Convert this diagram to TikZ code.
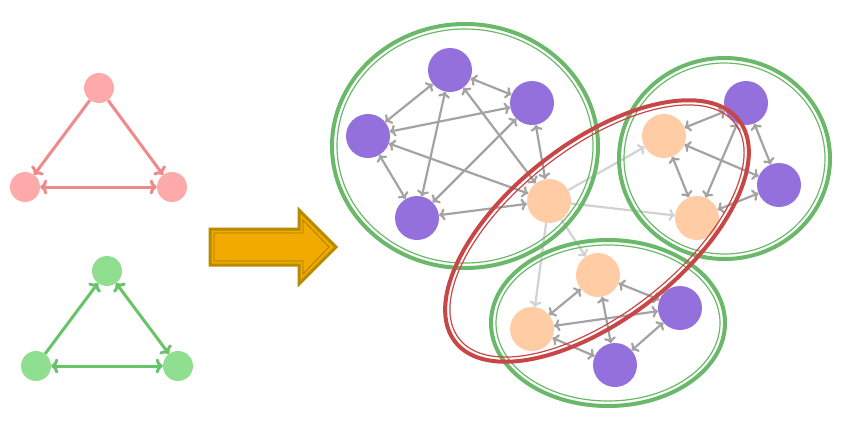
\documentclass[tikz,border=0pt]{standalone}
\usepackage{tikz}
\usepackage{xcolor}
\usetikzlibrary{arrows.meta}

\definecolor{purplenode}{HTML}{9370DB}
\definecolor{peachnode}{HTML}{FFCCA5}
\definecolor{edgegray}{HTML}{A3A3A3}
\definecolor{edgelight}{HTML}{D2D2D2}
\definecolor{groupgreen}{HTML}{6AB96A}
\definecolor{groupred}{HTML}{C84646}
\definecolor{pinknode}{HTML}{FFAAAA}
\definecolor{pinkedge}{HTML}{F08A8A}
\definecolor{mintnode}{HTML}{90DE90}
\definecolor{mintedge}{HTML}{68C468}
\definecolor{arrowfill}{HTML}{F0AA00}
\definecolor{arrowline}{HTML}{B88A00}

\begin{document}
\begin{tikzpicture}[x=1pt, y=-1pt,
    vert/.style={circle, inner sep=0pt, minimum size=44pt},
    tri/.style={circle, inner sep=0pt, minimum size=30pt},
    link/.style={edgegray, line width=2.2pt, {To[length=6pt,width=12pt]}-{To[length=6pt,width=12pt]}},
    hop/.style={edgelight, line width=2.2pt, -{To[length=6pt,width=12pt]}},
    motif/.style={line width=3pt, >={To[length=7pt,width=15pt]}}]

    \useasboundingbox (0,0) rectangle (859,432);

    % Draw the two small motifs
    \node[tri, fill=pinknode] (rt) at (99,88) {};
    \node[tri, fill=pinknode] (rl) at (25,187) {};
    \node[tri, fill=pinknode] (rr) at (172,187) {};
    \draw[motif, pinkedge, ->] (rt) -- (rl);
    \draw[motif, pinkedge, ->] (rt) -- (rr);
    \draw[motif, pinkedge, <->] (rl) -- (rr);

    \node[tri, fill=mintnode] (gt) at (107,271) {};
    \node[tri, fill=mintnode] (gl) at (36,366) {};
    \node[tri, fill=mintnode] (gr) at (178,366) {};
    \draw[motif, mintedge, ->] (gl) -- (gt);
    \draw[motif, mintedge, <->] (gt) -- (gr);
    \draw[motif, mintedge, <->] (gl) -- (gr);

    % Draw the block arrow
    \filldraw[fill=arrowfill, draw=arrowline, line width=3pt, line join=miter]
        (210,229) -- (299,229) -- (299,210) -- (336,247) -- (299,284) -- (299,265) -- (210,265) -- cycle;
    \draw[arrowline!90!black, line width=0.8pt, line join=miter]
        (214,233) -- (303,233) -- (303,220) -- (329,247) -- (303,274) -- (303,261) -- (214,261) -- cycle;

    % Draw the vertices
    \foreach \n/\x/\y in {p1/450/70, p2/532/103, p3/368/136, p4/417/218,
                          p5/746/103, p6/779/185, p7/680/308, p8/615/365} {
        \node[vert, fill=purplenode] (\n) at (\x,\y) {};
    }
    \foreach \n/\x/\y in {o1/549/201, o2/664/136, o3/697/218, o4/598/275, o5/532/329} {
        \node[vert, fill=peachnode] (\n) at (\x,\y) {};
    }

    % Draw the edges
    \foreach \a/\b in {p1/p3, p1/p2, p3/p2, p1/p4, p3/p4, p2/p4, p1/o1, p2/o1, p3/o1, p4/o1,
                       p5/o2, p5/o3, p5/p6, o2/p6, o2/o3, o3/p6,
                       o4/o5, p7/o4, p7/o5, p8/o4, o5/p8, p8/p7} {
        \draw[link] (\a) -- (\b);
    }
    \foreach \b in {o2, o3, o4, o5} {
        \draw[hop] (o1) -- (\b);
    }

    % Draw the groups
    \foreach \cx/\cy/\rx/\ry in {465/146/133/122, 724.5/158.5/105.5/100.5, 608/323/117/83} {
        \pgfmathsetmacro{\rxi}{\rx-5}
        \pgfmathsetmacro{\ryi}{\ry-5}
        \draw[groupgreen, line width=4pt] (\cx,\cy) ellipse [x radius=\rx pt, y radius=\ry pt];
        \draw[groupgreen, line width=1.2pt] (\cx,\cy) ellipse [x radius=\rxi pt, y radius=\ryi pt];
    }
    \draw[groupred, line width=4pt, rotate around={38:(597,231)}]
        (597,231) ellipse [x radius=180pt, y radius=88pt];
    \draw[groupred, line width=1.2pt, rotate around={38:(597,231)}]
        (597,231) ellipse [x radius=175pt, y radius=83pt];

\end{tikzpicture}
\end{document}
